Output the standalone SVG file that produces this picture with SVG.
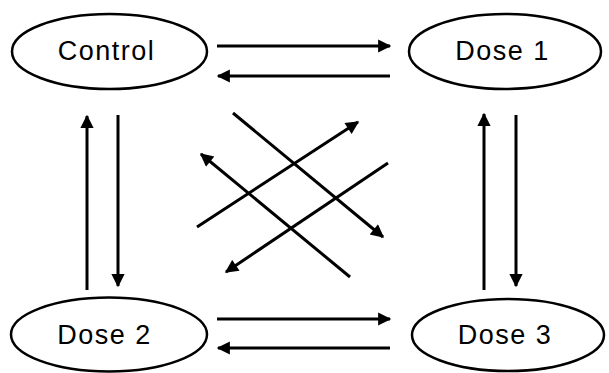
<svg xmlns="http://www.w3.org/2000/svg" width="609" height="373" viewBox="0 0 609 373">
  <style>
    .node ellipse { fill: #ffffff; stroke: #000000; stroke-width: 2.5; }
    .node text { font-family: "Liberation Sans", Arial, sans-serif; font-size: 27px; letter-spacing: 1.5px; fill: #000000; text-anchor: middle; }
    .edge { stroke: #000000; stroke-width: 3; fill: none; marker-end: url(#head); }
  </style>
  <defs>
    <marker id="head" viewBox="0 0 10 10" refX="9" refY="5" markerWidth="5.2" markerHeight="4.4" markerUnits="strokeWidth" orient="auto">
      <path d="M0,0 L10,5 L0,10 Z" fill="#000000"/>
    </marker>
  </defs>
  <rect width="609" height="373" fill="#ffffff"/>

  <g id="control" class="node">
    <ellipse cx="109.5" cy="51.5" rx="97.5" ry="37.5"/>
    <text x="106.5" y="59.5">Control</text>
  </g>
  <g id="dose1" class="node">
    <ellipse cx="505" cy="51.5" rx="96" ry="37.5"/>
    <text x="502.5" y="59.5">Dose 1</text>
  </g>
  <g id="dose2" class="node">
    <ellipse cx="109" cy="334.5" rx="98" ry="37"/>
    <text x="104.5" y="344">Dose 2</text>
  </g>
  <g id="dose3" class="node">
    <ellipse cx="508" cy="335" rx="96" ry="36"/>
    <text x="505" y="344">Dose 3</text>
  </g>

  <g id="connectors">
    <!-- horizontal pairs -->
    <line class="edge" x1="217" y1="46" x2="390" y2="46"/>
    <line class="edge" x1="390" y1="76" x2="218" y2="76"/>
    <line class="edge" x1="217" y1="319" x2="390" y2="319"/>
    <line class="edge" x1="390" y1="348" x2="218" y2="348"/>
    <!-- vertical pairs -->
    <line class="edge" x1="87" y1="290" x2="87" y2="116"/>
    <line class="edge" x1="118" y1="115" x2="118" y2="286"/>
    <line class="edge" x1="484" y1="290" x2="484" y2="114"/>
    <line class="edge" x1="516" y1="115" x2="516" y2="286"/>
    <!-- diagonals -->
    <line class="edge" x1="233" y1="113" x2="383" y2="237"/>
    <line class="edge" x1="197" y1="227" x2="358" y2="122"/>
    <line class="edge" x1="388" y1="163" x2="226" y2="272"/>
    <line class="edge" x1="350" y1="277" x2="201" y2="154"/>
  </g>
</svg>
